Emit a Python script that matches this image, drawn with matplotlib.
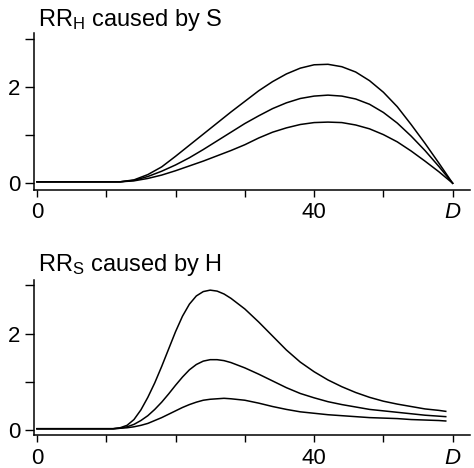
import matplotlib
matplotlib.use("Agg")
import matplotlib.pyplot as plt

plt.rcParams['font.family'] = ['Liberation Sans', 'DejaVu Sans']
plt.rcParams['mathtext.default'] = 'regular'

# ---- data ----
x_top = [0, 10, 12, 14, 16, 18, 20, 22, 24, 26, 28, 30, 32, 34, 36, 38, 40,
         42, 44, 46, 48, 50, 52, 54, 56, 58, 60]
top_high = [0.03, 0.03, 0.03, 0.07, 0.18, 0.34, 0.56, 0.79, 1.02, 1.25, 1.48,
            1.70, 1.92, 2.11, 2.27, 2.39, 2.46, 2.47, 2.42, 2.31, 2.13, 1.89,
            1.59, 1.22, 0.83, 0.42, 0.0]
top_mid = [0.03, 0.03, 0.03, 0.06, 0.14, 0.25, 0.38, 0.53, 0.70, 0.88, 1.06,
           1.24, 1.40, 1.55, 1.67, 1.76, 1.81, 1.83, 1.81, 1.75, 1.64, 1.47,
           1.25, 0.98, 0.68, 0.35, 0.0]
top_low = [0.03, 0.03, 0.03, 0.05, 0.10, 0.17, 0.26, 0.36, 0.46, 0.57, 0.68,
           0.80, 0.94, 1.06, 1.15, 1.22, 1.26, 1.27, 1.26, 1.21, 1.13, 1.01,
           0.86, 0.67, 0.46, 0.24, 0.0]

x_bot = [0, 10, 11, 12, 13, 14, 15, 16, 17, 18, 19, 20, 21, 22, 23, 24, 25,
         26, 27, 28, 30, 32, 34, 36, 38, 40, 42, 44, 46, 48, 50, 52, 54, 56,
         58, 59]
bot_high = [0.03, 0.03, 0.03, 0.05, 0.10, 0.22, 0.42, 0.68, 0.98, 1.32, 1.68,
            2.04, 2.36, 2.61, 2.78, 2.87, 2.90, 2.88, 2.82, 2.73, 2.51, 2.24,
            1.95, 1.66, 1.41, 1.21, 1.04, 0.90, 0.78, 0.68, 0.60, 0.54, 0.49,
            0.44, 0.41, 0.39]
bot_mid = [0.03, 0.03, 0.03, 0.04, 0.07, 0.12, 0.20, 0.30, 0.43, 0.58, 0.75,
           0.93, 1.10, 1.25, 1.36, 1.43, 1.46, 1.46, 1.44, 1.40, 1.29, 1.16,
           1.02, 0.88, 0.76, 0.67, 0.59, 0.53, 0.48, 0.43, 0.40, 0.37, 0.34,
           0.31, 0.29, 0.28]
bot_low = [0.03, 0.03, 0.03, 0.04, 0.05, 0.07, 0.10, 0.14, 0.20, 0.26, 0.33,
           0.40, 0.47, 0.53, 0.58, 0.62, 0.64, 0.65, 0.66, 0.65, 0.62, 0.56,
           0.49, 0.43, 0.38, 0.35, 0.32, 0.30, 0.28, 0.26, 0.25, 0.24, 0.22,
           0.21, 0.20, 0.19]

x_ticks = [0, 10, 20, 30, 40, 50, 60]
x_ticklabels = ['0', '', '', '', '40', '', 'D']
y_ticks = [0, 1, 2, 3]
y_ticklabels = ['0', '', '2', '']
titles = [r'RR$_{H}$ caused by S', r'RR$_{S}$ caused by H']

W, H = 474, 468
fig = plt.figure(figsize=(W / 100, H / 100), dpi=100)

def style(ax, ylim):
    ax.set_xlim(-0.43, 62.5)
    ax.set_ylim(*ylim)
    for s in ['top', 'right']:
        ax.spines[s].set_visible(False)
    for s in ['left', 'bottom']:
        ax.spines[s].set_linewidth(1.1)
    ax.set_xticks(x_ticks)
    ax.set_xticklabels(x_ticklabels)
    ax.set_yticks(y_ticks)
    ax.set_yticklabels(y_ticklabels)
    ax.tick_params(axis='x', direction='out', length=5, width=1.0,
                   pad=4, labelsize=16)
    ax.tick_params(axis='y', direction='out', length=6.5, width=1.0,
                   pad=3.5, labelsize=16)
    ax.get_xticklabels()[6].set_fontstyle('italic')
    ax.patch.set_visible(False)

ax1 = fig.add_axes([34 / W, 1 - 190 / H, (470 - 34) / W, (190 - 33) / H])
style(ax1, (-0.14, 3.12))
for ys in (top_high, top_mid, top_low):
    ax1.plot(x_top, ys, color='black', lw=1.1, solid_joinstyle='round')

ax2 = fig.add_axes([34 / W, 1 - 435 / H, (470 - 34) / W, (435 - 280) / H])
style(ax2, (-0.10, 3.11))
for ys in (bot_high, bot_mid, bot_low):
    ax2.plot(x_bot, ys, color='black', lw=1.1, solid_joinstyle='round')

fig.text(38 / W, 1 - 26 / H, titles[0], fontsize=17, va='baseline', ha='left')
fig.text(38 / W, 1 - 271 / H, titles[1], fontsize=17, va='baseline', ha='left')

fig.savefig('out.png', dpi=100)
